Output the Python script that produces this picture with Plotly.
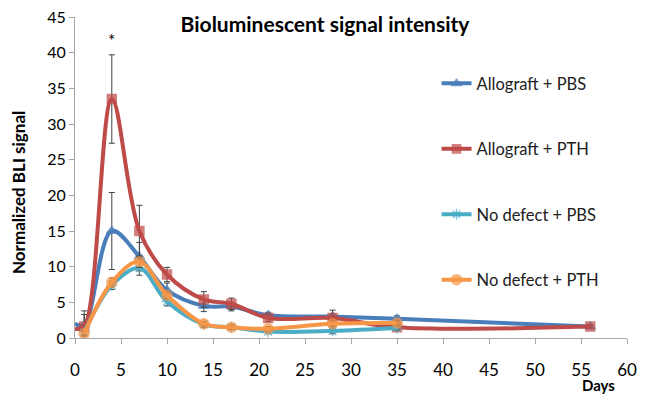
import plotly.graph_objects as go

# ---- data ----
days_allo = [0, 1, 4, 7, 10, 14, 17, 21, 28, 35, 56]
allo_pbs = [2.0, 1.8, 15.0, 11.4, 6.7, 4.5, 4.4, 3.2, 3.0, 2.7, 1.6]
allo_pbs_err = [0, 1.5, 5.4, 2.0, 1.0, 0.8, 0.6, 0.4, 0.4, 0.4, 0.2]
allo_pth = [1.3, 1.6, 33.5, 15.0, 8.9, 5.4, 4.8, 2.8, 2.8, 1.5, 1.6]
allo_pth_err = [0, 2.2, 6.2, 3.6, 1.0, 1.1, 0.8, 0.5, 1.1, 0.4, 0.2]

days_nodef = [1, 4, 7, 10, 14, 17, 21, 28, 35]
nodef_pbs = [0.8, 7.4, 9.8, 5.1, 1.9, 1.5, 0.9, 1.0, 1.4]
nodef_pbs_err = [0.3, 0.6, 1.0, 0.6, 0.4, 0.3, 0.3, 0.4, 0.3]
nodef_pth = [0.6, 7.8, 10.7, 6.0, 2.0, 1.5, 1.3, 2.0, 2.1]
nodef_pth_err = [0.3, 0.6, 0.8, 0.5, 0.3, 0.3, 0.3, 0.4, 0.3]

x_ticks = list(range(0, 61, 5))
y_ticks = list(range(0, 46, 5))

FONT = "Lato"

series = [
    ("Allograft + PBS", days_allo, allo_pbs, allo_pbs_err, "#4A7EBB", "triangle-up", 9),
    ("Allograft + PTH", days_allo, allo_pth, allo_pth_err, "#BE4B48", "square", 9),
    ("No defect + PBS", days_nodef, nodef_pbs, nodef_pbs_err, "#4BACC6", "asterisk-open", 9),
    ("No defect + PTH", days_nodef, nodef_pth, nodef_pth_err, "#F79646", "circle", 10),
]

fig = go.Figure()
for i, (name, xs, ys, es, col, sym, sz) in enumerate(series):
    sizes = [0 if d == 0 else sz for d in xs]
    fig.add_trace(go.Scatter(
        x=xs, y=ys, name=name, mode="lines+markers",
        line=dict(color=col, width=4, shape="spline", smoothing=1.0),
        marker=dict(symbol=sym, size=sizes, color=col,
                    line=dict(color=col, width=1.5)),
        error_y=dict(type="data", array=es, visible=True,
                     color="#404040", thickness=1, width=3),
        legendgroup=f"g{i}",
    ))

# page has an 8px body margin: figure is drawn 8px right/down
W, H = 637, 392
PL, PR, PT, PB = 67, 18, 9, 62  # plot area in figure px
pw, ph = W - PL - PR, H - PT - PB

fig.add_annotation(x=4, y=41.7, text="*", showarrow=False,
                   font=dict(family=FONT, size=17, color="black"))
fig.add_annotation(x=(609 - PL) / pw, xref="paper", y=-(377 - (H - PB)) / ph, yref="paper",
                   xanchor="right", yanchor="middle", text="<b>Days</b>",
                   showarrow=False, font=dict(family=FONT, size=15, color="black"))
fig.add_annotation(x=-(PL - 10) / pw, xref="paper", y=(H - PB - 185) / ph, yref="paper",
                   xanchor="center", yanchor="middle", textangle=-90,
                   text="<b>Normalized BLI signal</b>",
                   showarrow=False, font=dict(family=FONT, size=17, color="black"))

fig.update_layout(
    width=W, height=H,
    margin=dict(l=PL, r=PR, t=PT, b=PB, autoexpand=False),
    paper_bgcolor="white", plot_bgcolor="white",
    font=dict(family=FONT, color="black"),
    title=dict(text="<b>Bioluminescent signal intensity</b>", x=317 / W, xanchor="center",
               y=1 - 17 / H, yanchor="middle", font=dict(family=FONT, size=21, color="black")),
    showlegend=True,
    legend=dict(x=0.655, y=0.847, xanchor="left", yanchor="top",
                bgcolor="rgba(0,0,0,0)", tracegroupgap=41,
                font=dict(family=FONT, size=16.5, color="#202020"),
                itemwidth=30),
    xaxis=dict(range=[0, 60], tickvals=x_ticks, showgrid=False, zeroline=False,
               showline=True, linecolor="#A6A6A6", linewidth=1, automargin=False,
               ticks="outside", ticklen=5, tickcolor="#A6A6A6",
               ticklabelstandoff=12, ticklabeloverflow="allow",
               tickfont=dict(family=FONT, size=17, color="black")),
    yaxis=dict(range=[0, 45], tickvals=y_ticks, showgrid=False, zeroline=False,
               showline=True, linecolor="#A6A6A6", linewidth=1, automargin=False,
               ticks="outside", ticklen=5, tickcolor="#A6A6A6",
               ticklabeloverflow="allow",
               tickfont=dict(family=FONT, size=16, color="black")),
)

fig.write_html("out.html")
